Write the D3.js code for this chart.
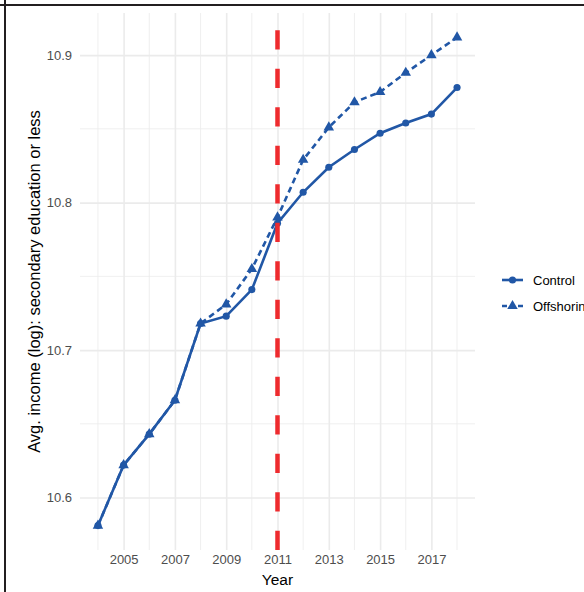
<!DOCTYPE html>
<html>
<head>
<meta charset="utf-8">
<script src="https://cdn.jsdelivr.net/npm/d3@7"></script>
<style>
  body { margin: 0; background: #fff; }
  svg { display: block; font-family: "Liberation Sans", Arial, sans-serif; }
</style>
</head>
<body>
<svg></svg>
<script>
const w = 584
const h = 592

// data
const years = [2004, 2005, 2006, 2007, 2008, 2009, 2010, 2011, 2012, 2013, 2014, 2015, 2016, 2017, 2018]
const control = [10.581, 10.622, 10.643, 10.666, 10.718, 10.723, 10.741, 10.786, 10.807, 10.824, 10.836, 10.847, 10.854, 10.860, 10.878]
const offshoring = [10.581, 10.622, 10.643, 10.666, 10.718, 10.731, 10.755, 10.790, 10.829, 10.851, 10.868, 10.875, 10.888, 10.900, 10.912]
const seriesNames = ['Control', 'Offshoring']
const xTicks = [2005, 2007, 2009, 2011, 2013, 2015, 2017]
const yTicks = [10.6, 10.7, 10.8, 10.9]
const treatYear = 2011

const blue = '#2157a6'
const grid = '#ebebeb'

const svg = d3.select('svg')
  .attr('width', w)
  .attr('height', h);

const margin = {top: 13, right: 109, bottom: 42, left: 80};
const innerWidth = w - margin.left - margin.right;
const innerHeight = h - margin.top - margin.bottom;

// ggplot style 5% expansion
const expand = (lo, hi) => { const d = (hi - lo) * 0.05; return [lo - d, hi + d]; };
const allY = control.concat(offshoring);

const xScale = d3.scaleLinear()
  .domain(expand(d3.min(years), d3.max(years)))
  .range([0, innerWidth]);

const yScale = d3.scaleLinear()
  .domain(expand(d3.min(allY), d3.max(allY)))
  .range([innerHeight, 0]);

const g = svg.append('g')
  .attr('transform', `translate(${margin.left}, ${margin.top})`);

// minor grid
const minorY = [10.65, 10.75, 10.85].filter(v => v > yScale.domain()[0] && v < yScale.domain()[1]);
g.append('g').selectAll('line').data(minorY)
  .enter().append('line')
  .attr('x1', 0).attr('x2', innerWidth)
  .attr('y1', d => yScale(d)).attr('y2', d => yScale(d))
  .attr('stroke', grid).attr('stroke-width', 0.8);
g.append('g').selectAll('line').data(years.filter(y => !xTicks.includes(y)))
  .enter().append('line')
  .attr('y1', 0).attr('y2', innerHeight)
  .attr('x1', d => xScale(d)).attr('x2', d => xScale(d))
  .attr('stroke', grid).attr('stroke-width', 0.8);

// major grid + axes
const yAxis = d3.axisLeft(yScale)
  .tickValues(yTicks)
  .tickFormat(d3.format('.1f'))
  .tickSize(-innerWidth)
  .tickPadding(8);

const yAxisG = g.append('g').call(yAxis);
yAxisG.select('.domain').remove();
yAxisG.selectAll('line').attr('stroke', grid).attr('stroke-width', 1.6);
yAxisG.selectAll('text').attr('fill', '#4d4d4d').attr('font-size', '13px');

const xAxis = d3.axisBottom(xScale)
  .tickValues(xTicks)
  .tickFormat(d3.format('d'))
  .tickSize(-innerHeight)
  .tickPadding(5);

const xAxisG = g.append('g').call(xAxis)
  .attr('transform', `translate(0, ${innerHeight})`);
xAxisG.select('.domain').remove();
xAxisG.selectAll('line').attr('stroke', grid).attr('stroke-width', 1.6);
xAxisG.selectAll('text').attr('fill', '#4d4d4d').attr('font-size', '13px');

xAxisG.append('text')
  .attr('x', xScale(treatYear))
  .attr('y', 35)
  .attr('fill', 'black')
  .attr('font-size', '15.5px')
  .attr('text-anchor', 'middle')
  .text('Year');

g.append('text')
  .attr('transform', `translate(${-40}, ${innerHeight / 2}) rotate(-90)`)
  .attr('fill', 'black')
  .attr('font-size', '16.5px')
  .attr('text-anchor', 'middle')
  .text('Avg. income (log): secondary education or less');

// series
const seriesData = [
  {name: seriesNames[0], values: control, dash: null, shape: d3.symbolCircle},
  {name: seriesNames[1], values: offshoring, dash: '6 4', shape: d3.symbolTriangle}
];

const line = d3.line()
  .x((d, i) => xScale(years[i]))
  .y(d => yScale(d));

seriesData.forEach(s => {
  g.append('path')
    .datum(s.values)
    .attr('d', line)
    .attr('fill', 'none')
    .attr('stroke', blue)
    .attr('stroke-width', 2.6)
    .attr('stroke-dasharray', s.dash);
});

seriesData.slice().reverse().forEach(s => {
  g.append('g').selectAll('path').data(s.values)
    .enter().append('path')
    .attr('transform', (d, i) => `translate(${xScale(years[i])}, ${yScale(d)})`)
    .attr('d', d3.symbol().type(s.shape).size(s.shape === d3.symbolCircle ? 40 : 48))
    .attr('fill', blue);
});

// treatment line, dashes start from the bottom
g.append('line')
  .attr('x1', xScale(treatYear)).attr('x2', xScale(treatYear))
  .attr('y1', innerHeight).attr('y2', 0)
  .attr('stroke', '#ee2b2e')
  .attr('stroke-width', 4.5)
  .attr('stroke-dasharray', '19.3 19.2');

// legend
const legend = svg.append('g')
  .attr('transform', 'translate(502, 280)');
seriesData.forEach((s, i) => {
  const lg = legend.append('g').attr('transform', `translate(0, ${i * 26})`);
  lg.append('line')
    .attr('x1', 0).attr('x2', 21)
    .attr('stroke', blue).attr('stroke-width', 2.6)
    .attr('stroke-dasharray', s.dash ? '5 3' : null);
  lg.append('path')
    .attr('transform', 'translate(10.5, 0)')
    .attr('d', d3.symbol().type(s.shape).size(s.shape === d3.symbolCircle ? 40 : 48))
    .attr('fill', blue);
  lg.append('text')
    .attr('x', 31)
    .attr('dy', '0.35em')
    .attr('font-size', '13px')
    .attr('fill', 'black')
    .text(s.name);
});

// frame lines at top and left
svg.append('line').attr('x1', 0).attr('x2', w).attr('y1', 5).attr('y2', 5)
  .attr('stroke', '#231f20').attr('stroke-width', 2);
svg.append('line').attr('x1', 5).attr('x2', 5).attr('y1', 0).attr('y2', h)
  .attr('stroke', '#231f20').attr('stroke-width', 2);
</script>
</body>
</html>
